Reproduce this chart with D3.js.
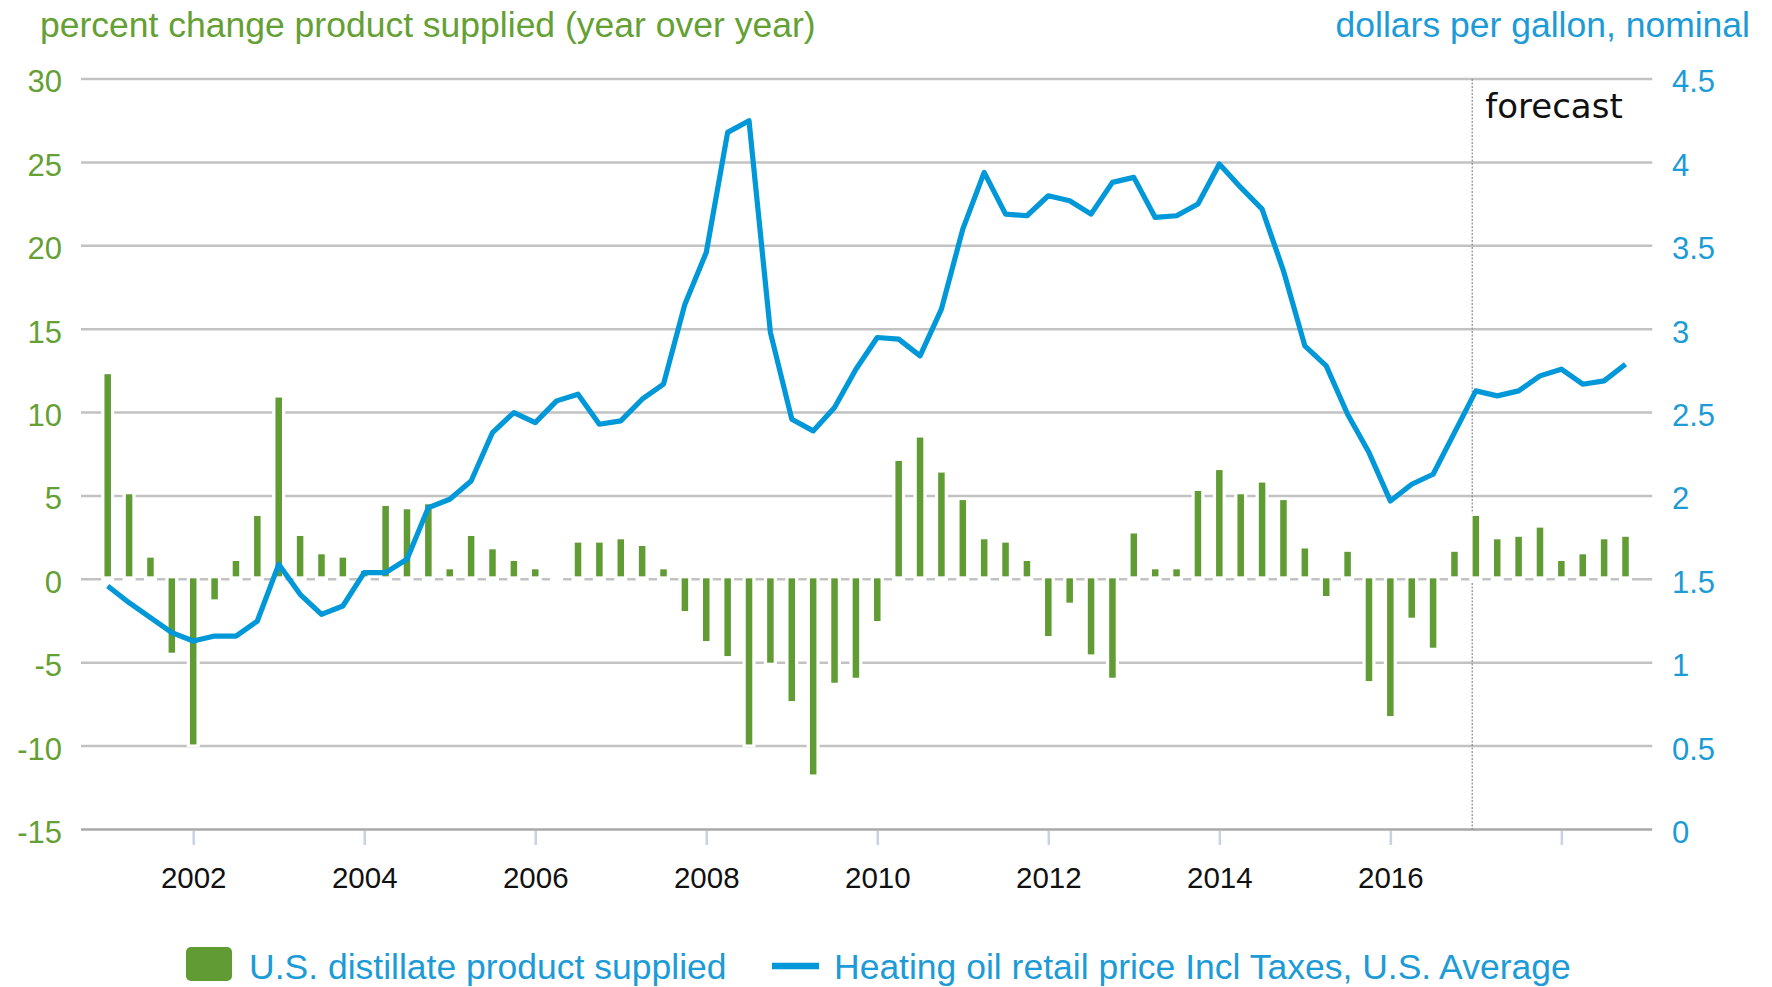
<!DOCTYPE html>
<html><head><meta charset="utf-8">
<script src="https://cdn.jsdelivr.net/npm/d3@7"></script>
<style>body{margin:0;background:#fff}</style>
</head><body>
<svg id="c" width="1772" height="987"></svg>
<script>
// ---- data ----
const quarters = [
 "2001Q1","2001Q2","2001Q3","2001Q4","2002Q1","2002Q2","2002Q3","2002Q4",
 "2003Q1","2003Q2","2003Q3","2003Q4","2004Q1","2004Q2","2004Q3","2004Q4",
 "2005Q1","2005Q2","2005Q3","2005Q4","2006Q1","2006Q2","2006Q3","2006Q4",
 "2007Q1","2007Q2","2007Q3","2007Q4","2008Q1","2008Q2","2008Q3","2008Q4",
 "2009Q1","2009Q2","2009Q3","2009Q4","2010Q1","2010Q2","2010Q3","2010Q4",
 "2011Q1","2011Q2","2011Q3","2011Q4","2012Q1","2012Q2","2012Q3","2012Q4",
 "2013Q1","2013Q2","2013Q3","2013Q4","2014Q1","2014Q2","2014Q3","2014Q4",
 "2015Q1","2015Q2","2015Q3","2015Q4","2016Q1","2016Q2","2016Q3","2016Q4",
 "2017Q1","2017Q2","2017Q3","2017Q4","2018Q1","2018Q2","2018Q3","2018Q4"];
const distillateSupplied = [
 12.3, 5.1, 1.3, -4.4, -9.9, -1.2, 1.1, 3.8,
 10.9, 2.6, 1.5, 1.3, 0.5, 4.4, 4.2, 4.5,
 0.6, 2.6, 1.8, 1.1, 0.6, 0.0, 2.2, 2.2,
 2.4, 2.0, 0.6, -1.9, -3.7, -4.6, -9.9, -5.0,
 -7.3, -11.7, -6.2, -5.9, -2.5, 7.1, 8.5, 6.4,
 4.75, 2.4, 2.2, 1.1, -3.4, -1.4, -4.5, -5.9,
 2.75, 0.6, 0.6, 5.3, 6.55, 5.1, 5.8, 4.75,
 1.85, -1.0, 1.65, -6.1, -8.2, -2.3, -4.1, 1.65,
 3.8, 2.4, 2.55, 3.1, 1.1, 1.5, 2.4, 2.55];
const heatingOilPrice = [
 1.46, 1.36, 1.27, 1.18, 1.13, 1.16, 1.16, 1.25,
 1.59, 1.41, 1.29, 1.34, 1.54, 1.54, 1.62, 1.93,
 1.98, 2.09, 2.38, 2.50, 2.44, 2.57, 2.61, 2.43,
 2.45, 2.58, 2.67, 3.15, 3.46, 4.18, 4.25, 2.98,
 2.46, 2.39, 2.53, 2.76, 2.95, 2.94, 2.84, 3.12,
 3.60, 3.94, 3.69, 3.68, 3.80, 3.77, 3.69, 3.88,
 3.91, 3.67, 3.68, 3.75, 3.99, 3.85, 3.72, 3.35,
 2.90, 2.78, 2.49, 2.26, 1.97, 2.07, 2.13, 2.38,
 2.63, 2.60, 2.63, 2.72, 2.76, 2.67, 2.69, 2.79];
const leftTicks = [-15, -10, -5, 0, 5, 10, 15, 20, 25, 30];
const leftTickLabels = ["-15","-10","-5","0","5","10","15","20","25","30"];
const rightTicks = [0, 0.5, 1, 1.5, 2, 2.5, 3, 3.5, 4, 4.5];
const rightTickLabels = ["0","0.5","1","1.5","2","2.5","3","3.5","4","4.5"];
const yearTicks = ["2002Q1","2004Q1","2006Q1","2008Q1","2010Q1","2012Q1","2014Q1","2016Q1","2018Q1"];
const yearTickLabels = ["2002","2004","2006","2008","2010","2012","2014","2016",""];
const forecastStart = "2017Q1";
const leftTitle = "percent change product supplied (year over year)";
const rightTitle = "dollars per gallon, nominal";
const legendLabels = ["U.S. distillate product supplied", "Heating oil retail price Incl Taxes, U.S. Average"];

// ---- style ----
const GREEN = "#609b33", GREEN_TXT = "#64a033", BLUE = "#0098d8", BLUE_TXT = "#1c9bd7";
const FONT = "'Liberation Sans', Arial, sans-serif";

const svg = d3.select("#c");
const idx = d3.scaleOrdinal().domain(quarters).range(d3.range(quarters.length));
const xi = d3.scaleLinear().domain([0, quarters.length - 1]).range([107.7, 1625.5]);
const x = q => xi(idx(q));
const pad = 1.25;
const xL = xi(-pad), xR = xi(quarters.length - 1 + pad);
const yL = d3.scaleLinear().domain([-15, 30]).range([829.5, 79]);
const yR = d3.scaleLinear().domain([0, 4.5]).range([829.5, 79]);

// gridlines
svg.append("g").selectAll("line").data(leftTicks).join("line")
  .attr("x1", xL).attr("x2", xR)
  .attr("y1", d => yL(d)).attr("y2", d => yL(d))
  .attr("stroke", d => d === -15 ? "#a9a9a9" : "#c2c2c2")
  .attr("stroke-width", 2.5);

// x axis ticks
const xAxis = d3.axisBottom(d3.scalePoint().domain(quarters).range([xi(0), xi(quarters.length-1)]))
  .tickValues(yearTicks)
  .tickSize(14)
  .tickFormat((d, i) => yearTickLabels[i]);
const gx = svg.append("g").attr("transform", `translate(0,${yL(-15) + 1.5})`).call(xAxis);
gx.select(".domain").remove();
gx.selectAll(".tick line").attr("stroke", "#c6d3e3").attr("stroke-width", 2.5);
gx.selectAll(".tick text").attr("font-family", FONT).attr("font-size", 29.5)
  .attr("fill", "#111").attr("dy", "1.35em");

// left axis labels
const ga = svg.append("g").attr("transform", `translate(${62},3)`)
  .call(d3.axisLeft(yL).tickValues(leftTicks).tickSize(0).tickPadding(0).tickFormat((d, i) => leftTickLabels[i]));
ga.select(".domain").remove();
ga.selectAll("text").attr("font-family", FONT).attr("font-size", 31).attr("fill", GREEN_TXT);

// right axis labels
const gb = svg.append("g").attr("transform", `translate(${1672},3)`)
  .call(d3.axisRight(yR).tickValues(rightTicks).tickSize(0).tickPadding(0).tickFormat((d, i) => rightTickLabels[i]));
gb.select(".domain").remove();
gb.selectAll("text").attr("font-family", FONT).attr("font-size", 31).attr("fill", BLUE_TXT);

// forecast divider
const xf = xi(idx(forecastStart) - 0.17);
svg.append("line").attr("x1", xf).attr("x2", xf).attr("y1", yL(30)).attr("y2", yL(-15))
  .attr("stroke", "#8a8a8a").attr("stroke-width", 1.2).attr("stroke-dasharray", "2,1.5");
svg.append("text").attr("x", xf + 13).attr("y", 118).text("forecast")
  .attr("font-family", "'DejaVu Sans', sans-serif").attr("font-size", 34).attr("fill", "#111");

// bars: white halo then green bar
const bw = 6.5, hw = 13;
const bars = svg.append("g");
const data = quarters.map((q, i) => ({q, v: distillateSupplied[i], p: heatingOilPrice[i]}));
bars.selectAll("rect.h").data(data).join("rect").attr("class", "h")
  .attr("x", d => x(d.q) - hw/2).attr("width", hw)
  .attr("y", d => Math.min(yL(d.v), yL(0)) - 2.5)
  .attr("height", d => Math.abs(yL(d.v) - yL(0)) + 5)
  .attr("fill", "#fff");
bars.selectAll("rect.b").data(data.filter(d => d.v !== 0)).join("rect").attr("class", "b")
  .attr("x", d => x(d.q) - bw/2).attr("width", bw)
  .attr("y", d => d.v > 0 ? yL(d.v) : yL(0) - 1)
  .attr("height", d => d.v > 0 ? Math.max(0, yL(0) - 3 - yL(d.v)) : yL(d.v) - yL(0) + 1)
  .attr("fill", GREEN);

// price line
svg.append("path").datum(data)
  .attr("d", d3.line().x(d => x(d.q)).y(d => yR(d.p)))
  .attr("fill", "none").attr("stroke", BLUE).attr("stroke-width", 5.2)
  .attr("stroke-linejoin", "round");

// titles
svg.append("text").attr("x", 40).attr("y", 37).text(leftTitle)
  .attr("font-family", FONT).attr("font-size", 35.5).attr("fill", GREEN_TXT);
svg.append("text").attr("x", 1750).attr("y", 37).attr("text-anchor", "end").text(rightTitle)
  .attr("font-family", FONT).attr("font-size", 35.5).attr("fill", BLUE_TXT);

// legend
const lg = svg.append("g");
lg.append("rect").attr("x", 186).attr("y", 947).attr("width", 46).attr("height", 34).attr("rx", 5)
  .attr("fill", GREEN);
lg.append("text").attr("x", 249).attr("y", 979).text(legendLabels[0])
  .attr("font-family", FONT).attr("font-size", 35.5).attr("fill", BLUE_TXT);
lg.append("line").attr("x1", 772).attr("x2", 819).attr("y1", 966).attr("y2", 966)
  .attr("stroke", BLUE).attr("stroke-width", 6.5);
lg.append("text").attr("x", 834).attr("y", 979).text(legendLabels[1])
  .attr("font-family", FONT).attr("font-size", 35.5).attr("fill", BLUE_TXT);
</script>
</body></html>
